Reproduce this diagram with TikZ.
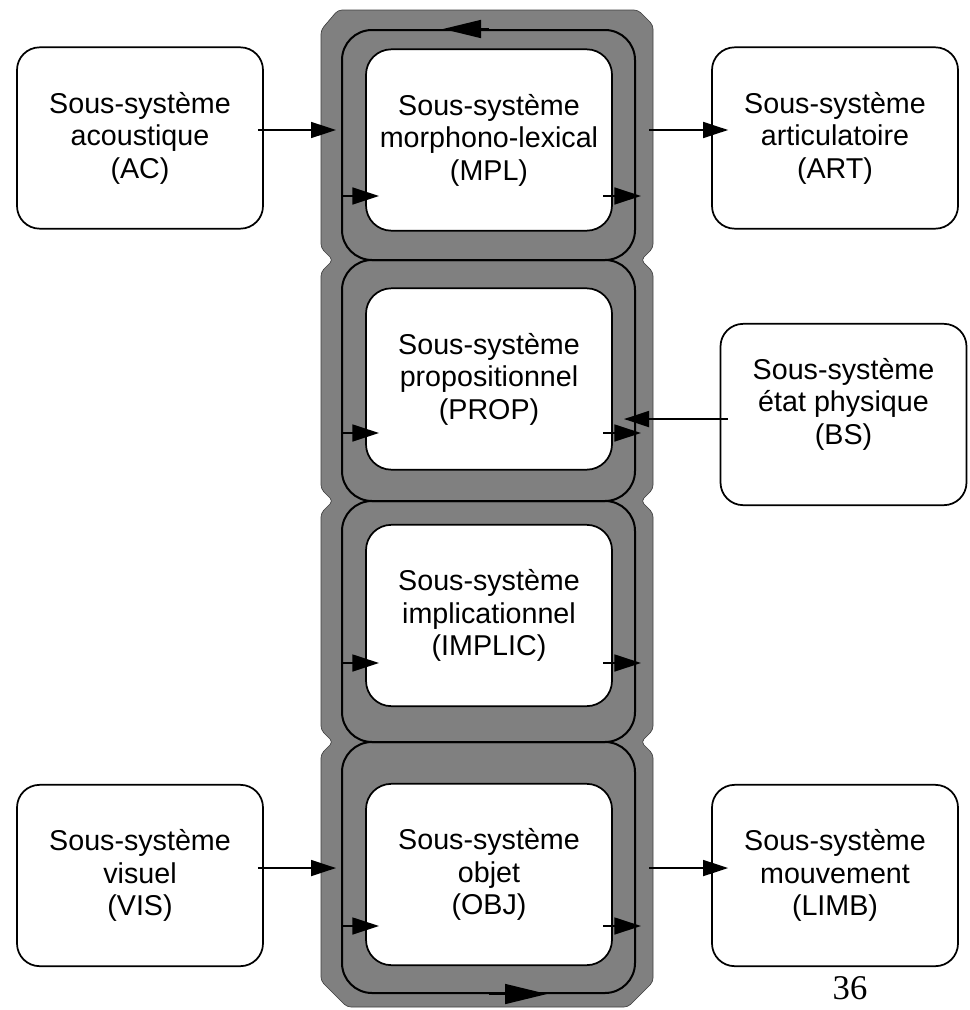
\documentclass[tikz,border=0pt]{standalone}
\usepackage{fontspec}
\setmainfont{Liberation Sans}
\newfontfamily\pagefont{Liberation Serif}
\usetikzlibrary{arrows.meta}

\begin{document}
\begin{tikzpicture}[x=0.75pt, y=-0.75pt,
	sub/.style={draw, fill=white, line width=1.3pt, rounded corners=19pt, align=center, inner sep=0pt,
		minimum width=184.5pt, minimum height=136pt, font=\fontsize{21.5}{24.4}\selectfont},
	ring/.style={draw, line width=1.5pt, rounded corners=22.5pt, inner sep=0pt, minimum width=219.75pt},
	flow/.style={line width=1.2pt, -{Triangle[length=18.75pt,width=12pt]}},
	passarrow/.style={line width=1.2pt, -{Triangle[length=20pt,width=12.75pt]}}
	]
	
	\useasboundingbox (0,0) rectangle (970,1010);
	
	% ---- Adjustable colors ----
	\def\columnColor{gray}
	\def\columnEdge{black!75}
	
	% ---- Gray column behind the four subsystems ----
	\fill[fill=\columnColor, draw=\columnEdge, line width=0.5pt, rounded corners=3pt]
		(338,10) -- (638,10) -- (653,25) -- (653,248) -- (641,260) -- (653,272)
		-- (653,489) -- (641,501) -- (653,513) -- (653,730) -- (641,742) -- (653,754)
		-- (653,982) -- (628,1007) -- (347,1007) -- (321,981) -- (321,754) -- (333,742)
		-- (321,730) -- (321,513) -- (333,501) -- (321,489) -- (321,272) -- (333,260)
		-- (321,248) -- (321,30) -- cycle;
	
	% ---- Central subsystems: rings ----
	\foreach \sname/\yr/\hr in {mpl/145/172.5pt, prop/380.5/180.75pt, implic/621.5/180.75pt, obj/867.5/188.25pt}
	\node[ring, minimum height=\hr] (r\sname) at (488.5,\yr) {};
	
	% ---- Central subsystems: boxes ----
	\node[sub] (mpl) at (489,140) {Sous-système\\morphono-lexical\\(MPL)};
	\node[sub] (prop) at (489,379) {Sous-système\\propositionnel\\(PROP)};
	\node[sub] (implic) at (489,615.5) {Sous-système\\implicationnel\\(IMPLIC)};
	\node[sub] (obj) at (489,874.5) {Sous-système\\objet\\(OBJ)};
	
	% ---- Passing arrows through each ring ----
	\foreach \sname/\dy in {mpl/51, prop/52.5, implic/41.5, obj/58.5}
	{
		\draw[passarrow] (r\sname.west) ++(0,\dy) -- ++(38,0);
		\draw[passarrow] (r\sname.east) ++(-33,\dy) -- ++(38,0);
	}
	
	% ---- Circulation along the column ----
	\draw[line width=1.2pt, -{Triangle[length=28.5pt,width=13.5pt]}] (rmpl.north) -- ++(-45.5,0);
	\draw[line width=1.2pt, -{Triangle[length=31.5pt,width=15pt]}] (robj.south) -- ++(58.5,0);
	
	% ---- Outer subsystems ----
	\node[sub, rounded corners=17pt] (ac) at (140,138) {Sous-système\\acoustique\\(AC)};
	\node[sub, rounded corners=17pt] (art) at (835,138) {Sous-système\\articulatoire\\(ART)};
	\node[sub, rounded corners=17pt, text depth=20pt] (bs) at (843.5,414.5) {Sous-système\\état physique\\(BS)};
	\node[sub, rounded corners=17pt] (vis) at (140,875.5) {Sous-système\\visuel\\(VIS)};
	\node[sub, rounded corners=17pt] (limb) at (835,875.5) {Sous-système\\mouvement\\(LIMB)};
	
	% ---- Connectors ----
	\coordinate (acout) at ([xshift=-4.5pt,yshift=6pt]ac.east);
	\coordinate (artin) at ([xshift=12.75pt,yshift=6pt]art.west);
	\coordinate (bsout) at ([xshift=6pt,yshift=-3.4pt]bs.west);
	\coordinate (visout) at ([xshift=-4.5pt,yshift=5.6pt]vis.east);
	\coordinate (limbin) at ([xshift=12.75pt,yshift=5.6pt]limb.west);
	
	\draw[flow, shorten >=3.75pt] (acout) -- (acout -| rmpl.west);
	\draw[flow] (rmpl.east |- artin) ++(13,0) -- (artin);
	\draw[flow, shorten >=-9pt] (bsout) -- (bsout -| rprop.east);
	\draw[flow, shorten >=3.75pt] (visout) -- (visout -| robj.west);
	\draw[flow] (robj.east |- limbin) ++(13,0) -- (limbin);
	
	% ---- Page number ----
	\node[font=\pagefont\fontsize{26}{26}\selectfont] (page) at (850,988) {36};
	
\end{tikzpicture}
\end{document}
